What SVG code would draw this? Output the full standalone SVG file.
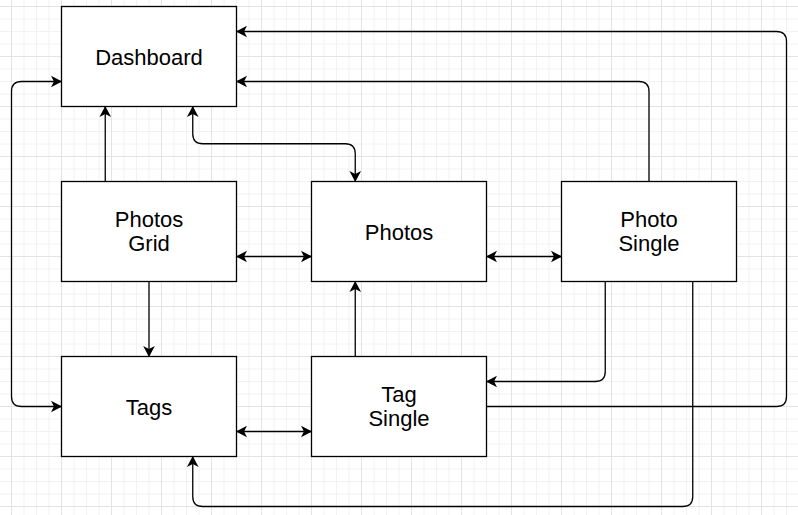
<svg xmlns="http://www.w3.org/2000/svg" width="798" height="515" viewBox="0 0 798 515">
  <style>
    .box { fill: #ffffff; stroke: #000000; stroke-width: 1.3; }
    .lbl { font-family: "Liberation Sans", Arial, sans-serif; font-size: 22px; fill: #000000; text-anchor: middle; }
    .edge { fill: none; stroke: #000000; stroke-width: 1.3; }
    .end { marker-end: url(#arrow); }
    .both { marker-start: url(#arrow); marker-end: url(#arrow); }
  </style>
  <defs>
    <pattern id="grid" patternUnits="userSpaceOnUse" x="11" y="6" width="50" height="50">
      <path d="M13,0 V50 M25.5,0 V50 M38,0 V50 M0,13 H50 M0,25.5 H50 M0,38 H50" stroke="#f2f2f2" stroke-width="1" fill="none"/>
      <path d="M0.5,0 V50 M0,0.5 H50" stroke="#e3e3e3" stroke-width="1" fill="none"/>
    </pattern>
    <marker id="arrow" markerUnits="userSpaceOnUse" markerWidth="14" markerHeight="14" viewBox="-10 -6 12 12" refX="0" refY="0" orient="auto-start-reverse">
      <path d="M0.5,0 L-9,-5 L-6.5,0 L-9,5 Z" fill="#000000" stroke="none"/>
    </marker>
  </defs>
  <rect width="798" height="515" fill="#ffffff"/>
  <rect width="798" height="515" fill="url(#grid)"/>

  <g id="connectors">
    <path class="edge end" d="M105.25,181.5 V106.5"/>
    <path class="edge both" d="M192.75,106.5 V133.75 Q192.75,143.75 202.75,143.75 H345.25 Q355.25,143.75 355.25,153.75 V181.5"/>
    <path class="edge both" d="M61.5,81.5 H21.5 Q11.5,81.5 11.5,91.5 V396.5 Q11.5,406.5 21.5,406.5 H61.5"/>
    <path class="edge both" d="M236.5,256.5 H311.5"/>
    <path class="edge both" d="M486.5,256.5 H561.5"/>
    <path class="edge end" d="M149,281.5 V356.5"/>
    <path class="edge both" d="M236.5,431.5 H311.5"/>
    <path class="edge end" d="M355.25,356.5 V281.5"/>
    <path class="edge end" d="M605.25,281.5 V371.5 Q605.25,381.5 595.25,381.5 H486.5"/>
    <path class="edge end" d="M649,181.5 V91.5 Q649,81.5 639,81.5 H236.5"/>
    <path class="edge end" d="M486.5,406.5 H776.5 Q786.5,406.5 786.5,396.5 V41.5 Q786.5,31.5 776.5,31.5 H236.5"/>
    <path class="edge end" d="M692.75,281.5 V496.5 Q692.75,506.5 682.75,506.5 H202.75 Q192.75,506.5 192.75,496.5 V456.5"/>
  </g>

  <g id="dashboard">
    <rect class="box" x="61.5" y="6.5" width="175" height="100"/>
    <text class="lbl" x="149" y="64.5">Dashboard</text>
  </g>
  <g id="photos-grid">
    <rect class="box" x="61.5" y="181.5" width="175" height="100"/>
    <text class="lbl" x="149" y="226.5">Photos</text>
    <text class="lbl" x="149" y="250.5">Grid</text>
  </g>
  <g id="photos">
    <rect class="box" x="311.5" y="181.5" width="175" height="100"/>
    <text class="lbl" x="399" y="239.5">Photos</text>
  </g>
  <g id="photo-single">
    <rect class="box" x="561.5" y="181.5" width="175" height="100"/>
    <text class="lbl" x="649" y="226.5">Photo</text>
    <text class="lbl" x="649" y="250.5">Single</text>
  </g>
  <g id="tags">
    <rect class="box" x="61.5" y="356.5" width="175" height="100"/>
    <text class="lbl" x="149" y="414.5">Tags</text>
  </g>
  <g id="tag-single">
    <rect class="box" x="311.5" y="356.5" width="175" height="100"/>
    <text class="lbl" x="399" y="401.5">Tag</text>
    <text class="lbl" x="399" y="425.5">Single</text>
  </g>
</svg>
